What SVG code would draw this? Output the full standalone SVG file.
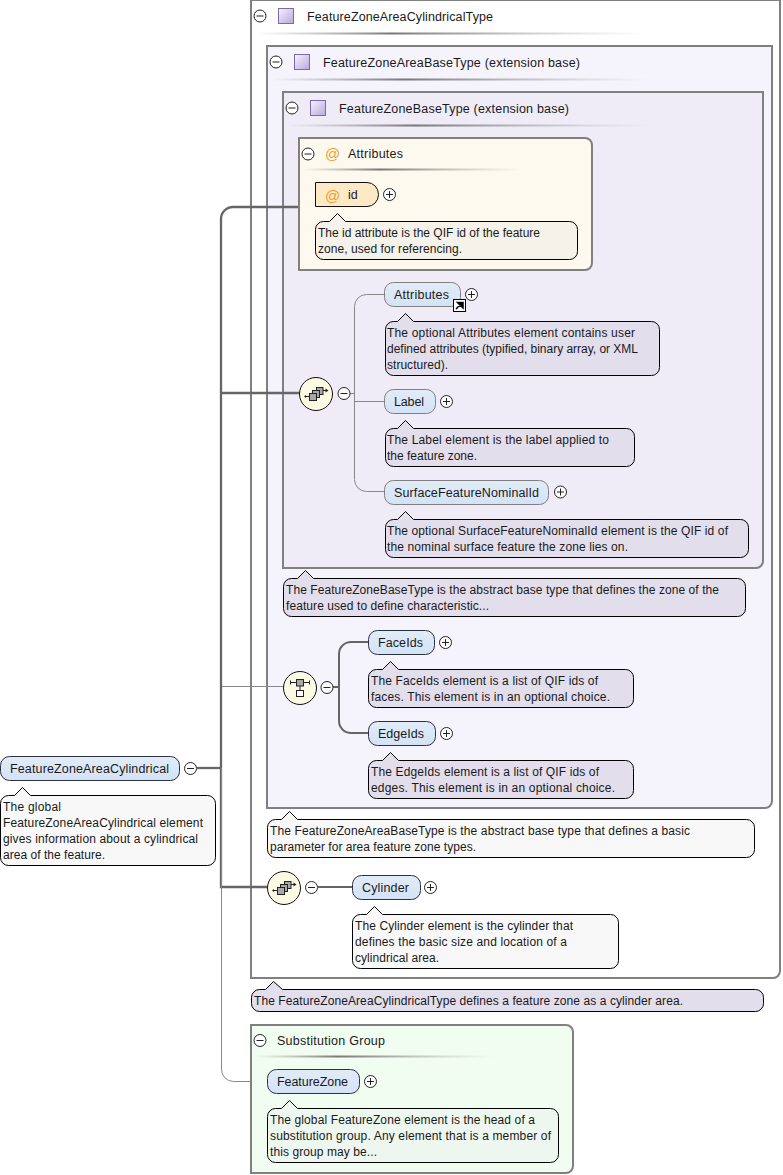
<svg xmlns="http://www.w3.org/2000/svg" width="783" height="1175" viewBox="0 0 783 1175">
<style>
text{font-family:"Liberation Sans",Arial,sans-serif;font-size:12px;fill:#1a1a1a}
.lb{font-size:12.5px}
.box{stroke:#808080;stroke-width:2}
.el{fill:url(#elFill);stroke:#2b3140;stroke-width:1}
.opt{stroke:#808080}
.note{stroke:#000;stroke-width:1;transform:translate(.5px,.5px)}
.n1{fill:#e3deec}.n2{fill:#f8f8f8}.n3{fill:#f5f2ea}.n4{fill:#eef7ef}
.btn{fill:#fff;stroke:#222;stroke-width:1}
.sym{fill:none;stroke:#222;stroke-width:1}
.thin{fill:none;stroke:#888;stroke-width:1}
.thick{fill:none;stroke:#666;stroke-width:2.300}
.mid{fill:none;stroke:#666;stroke-width:2}
.comp{fill:#fbfae2;stroke:#111;stroke-width:1}
.at{fill:#ee9f2e;font-size:15px}
.ty{fill:url(#tyFill);stroke:#7d68ad;stroke-width:1}
.g{fill:#a8a8a8;stroke:#222;stroke-width:1}
</style>
<defs>
<linearGradient id="elFill" x1="0" y1="0" x2="0" y2="1"><stop offset="0" stop-color="#e2ecf8"/><stop offset="1" stop-color="#d3e2f6"/></linearGradient>
<linearGradient id="tyFill" x1="0" y1="0" x2="1" y2="1"><stop offset="0" stop-color="#f6f3fb"/><stop offset="1" stop-color="#b7a8dc"/></linearGradient>
<linearGradient id="rule"><stop offset="0" stop-color="#999" stop-opacity="0"/><stop offset=".35" stop-color="#777"/><stop offset="1" stop-color="#aaa" stop-opacity="0"/></linearGradient>
<g id="plus"><circle r="6" class="btn"/><path d="M-3.500 0H3.500M0-3.500V3.500" class="sym"/></g>
<g id="minus"><circle r="6" class="btn"/><path d="M-3.500 0H3.500" class="sym"/></g>
<g id="seq">
<circle r="16.500" class="comp"/>
<path d="M-11 2.500H-7M7-3.500H11" class="sym"/><path d="M-12 2.500l2-1.500v3zM12.500-3.500l-3-2v4z" fill="#222"/>
<rect x="0.500" y="-6.500" width="6.500" height="7" class="g"/><rect x="-3.500" y="-3.500" width="7" height="7" class="g"/><rect x="-6.500" y="-0.500" width="7" height="7" class="g"/>
</g>
<g id="choice">
<circle r="16.500" class="comp"/>
<path d="M-9.500-5.500H9.500M0-2V2.500M-9.500-7.500V-3.500M9.500-7.500V-3.500" class="sym"/>
<rect x="-3.500" y="-8.500" width="7" height="6.500" class="g"/><rect x="-3.500" y="2.500" width="7" height="6" fill="#fff" stroke="#222"/>
</g>
</defs>

<!-- nested type containers -->
<g id="type-cylindrical">
<path class="box" fill="#fff" d="M251 0V978H773a7 7 0 0 0 7-7V0Z"/>
<use href="#minus" x="260" y="16"/><rect class="ty" x="278.500" y="8.500" width="15" height="15"/>
<text class="lb" x="307" y="21" textLength="186">FeatureZoneAreaCylindricalType</text>
<rect x="255" y="32.500" width="390" height="2" fill="url(#rule)"/>
</g>
<g id="type-area-base">
<path class="box" fill="#f5f3fb" d="M267 46H772V801a7 7 0 0 1-7 7H267Z"/>
<use href="#minus" x="276" y="62"/><rect class="ty" x="294.500" y="54.500" width="15" height="15"/>
<text class="lb" x="323" y="67" textLength="257">FeatureZoneAreaBaseType (extension base)</text>
<rect x="270" y="78.500" width="380" height="2" fill="url(#rule)"/>
</g>
<g id="type-zone-base">
<path class="box" fill="#efecf7" d="M283 92H763V561a7 7 0 0 1-7 7H283Z"/>
<use href="#minus" x="292" y="108"/><rect class="ty" x="310.500" y="100.500" width="15" height="15"/>
<text class="lb" x="339" y="113" textLength="230">FeatureZoneBaseType (extension base)</text>
<rect x="286" y="124.500" width="365" height="2" fill="url(#rule)"/>
</g>

<!-- connectors -->
<g id="connectors">
<path class="thick" d="M197 768H221"/>
<path class="thick" d="M300 207H233a12 12 0 0 0-12 12V887H268"/>
<path class="thick" d="M221 393H300"/>
<path class="thin" d="M222 686.500H284"/>
<path class="thin" d="M221.500 768V1069a12 12 0 0 0 12 12.500H268"/>
<path class="thin" d="M350 393.500H354.500M384 294.500H366.500a12 12 0 0 0-12 12V479.500a12 12 0 0 0 12 12H385M354.500 401.500H384"/>
<path class="mid" d="M333 687H339M368 642H351a12 12 0 0 0-12 12V721a12 12 0 0 0 12 12H368"/>
<path class="mid" d="M318 887H352"/>
</g>

<g id="attributes-group">
<path class="box" fill="#fef9ee" d="M299 138H585a7 7 0 0 1 7 7V263a7 7 0 0 1-7 7H299Z"/>
<use href="#minus" x="308" y="154"/><text class="at" x="325" y="159">@</text>
<text class="lb" x="348" y="158" textLength="55">Attributes</text>
<rect x="302" y="168.500" width="220" height="2" fill="url(#rule)"/>
</g>
<g id="attr-id">
<path fill="#fee9c6" stroke="#111" d="M315.500 182.500H367a11.500 12 0 0 1 11.500 12a11.500 12 0 0 1-11.500 12H315.500Z"/>
<text class="at" x="325" y="201">@</text><text class="lb" x="348" y="199">id</text>
<use href="#plus" x="389.500" y="194.500"/>
<path class="note n3" d="M323 221H329L337 213L345 221H569a8 8 0 0 1 8 8V251a8 8 0 0 1-8 8H323a8 8 0 0 1-8-8V229a8 8 0 0 1 8-8Z"/>
<text x="318" y="237" textLength="222">The id attribute is the QIF id of the feature</text>
<text x="318" y="253" textLength="144">zone, used for referencing.</text>
</g>

<g id="seq-zone-base"><use href="#seq" x="316" y="394"/><use href="#minus" x="344" y="393.500"/></g>
<g id="el-attributes">
<rect class="el opt" x="384.500" y="282.500" width="76" height="24" rx="9"/>
<text class="lb" x="394" y="299" textLength="55">Attributes</text>
<rect x="453.500" y="299.500" width="12" height="12" fill="#fff" stroke="#000"/>
<path d="M456 309L461.500 303.500M457.500 302.500H463V308Z" stroke="#000" stroke-width="1.500"/>
<use href="#plus" x="471.500" y="294.500"/>
<path class="note n1" d="M393 321H397L405 313L413 321H651a8 8 0 0 1 8 8V367a8 8 0 0 1-8 8H393a8 8 0 0 1-8-8V329a8 8 0 0 1 8-8Z"/>
<text x="387" y="337" textLength="248">The optional Attributes element contains user</text>
<text x="387" y="353" textLength="251">defined attributes (typified, binary array, or XML</text>
<text x="387" y="369" textLength="61">structured).</text>
</g>
<g id="el-label">
<rect class="el opt" x="384.500" y="389.500" width="51" height="24" rx="9"/>
<text class="lb" x="394" y="406" textLength="30">Label</text><use href="#plus" x="446.500" y="401.500"/>
<path class="note n1" d="M393 428H397L405 420L413 428H626a8 8 0 0 1 8 8V458a8 8 0 0 1-8 8H393a8 8 0 0 1-8-8V436a8 8 0 0 1 8-8Z"/>
<text x="387" y="444" textLength="222">The Label element is the label applied to</text>
<text x="387" y="460" textLength="90">the feature zone.</text>
</g>
<g id="el-surface">
<rect class="el opt" x="384.500" y="480.500" width="164" height="24" rx="9"/>
<text class="lb" x="394" y="497" textLength="145">SurfaceFeatureNominalId</text><use href="#plus" x="560.500" y="492"/>
<path class="note n1" d="M393 519H397L405 511L413 519H740a8 8 0 0 1 8 8V549a8 8 0 0 1-8 8H393a8 8 0 0 1-8-8V527a8 8 0 0 1 8-8Z"/>
<text x="387" y="535" textLength="341">The optional SurfaceFeatureNominalId element is the QIF id of</text>
<text x="387" y="551" textLength="241">the nominal surface feature the zone lies on.</text>
</g>
<g id="note-zone-base">
<path class="note n1" d="M291 578H297L305 570L313 578H737a8 8 0 0 1 8 8V608a8 8 0 0 1-8 8H291a8 8 0 0 1-8-8V586a8 8 0 0 1 8-8Z"/>
<text x="286" y="594" textLength="433">The FeatureZoneBaseType is the abstract base type that defines the zone of the</text>
<text x="286" y="610" textLength="203">feature used to define characteristic...</text>
</g>

<g id="choice-faces"><use href="#choice" x="300" y="688"/><use href="#minus" x="327" y="687.500"/></g>
<g id="el-faceids">
<rect class="el" x="368.500" y="630.500" width="66" height="24" rx="9"/>
<text class="lb" x="378" y="647" textLength="45">FaceIds</text><use href="#plus" x="445.500" y="642.500"/>
<path class="note n1" d="M376 669H382L390 661L398 669H625a8 8 0 0 1 8 8V699a8 8 0 0 1-8 8H376a8 8 0 0 1-8-8V677a8 8 0 0 1 8-8Z"/>
<text x="371" y="685" textLength="227">The FaceIds element is a list of QIF ids of</text>
<text x="371" y="701" textLength="239">faces. This element is in an optional choice.</text>
</g>
<g id="el-edgeids">
<rect class="el" x="368.500" y="721.500" width="67" height="24" rx="9"/>
<text class="lb" x="378" y="738" textLength="46">EdgeIds</text><use href="#plus" x="446.500" y="733.500"/>
<path class="note n1" d="M376 760H382L390 752L398 760H625a8 8 0 0 1 8 8V790a8 8 0 0 1-8 8H376a8 8 0 0 1-8-8V768a8 8 0 0 1 8-8Z"/>
<text x="371" y="776" textLength="228">The EdgeIds element is a list of QIF ids of</text>
<text x="371" y="792" textLength="244">edges. This element is in an optional choice.</text>
</g>
<g id="note-area-base">
<path class="note n2" d="M275 819H281L289 811L297 819H746a8 8 0 0 1 8 8V849a8 8 0 0 1-8 8H275a8 8 0 0 1-8-8V827a8 8 0 0 1 8-8Z"/>
<text x="270" y="835" textLength="420">The FeatureZoneAreaBaseType is the abstract base type that defines a basic</text>
<text x="270" y="851" textLength="206">parameter for area feature zone types.</text>
</g>

<g id="seq-cylinder"><use href="#seq" x="284" y="888"/><use href="#minus" x="311.500" y="887.500"/></g>
<g id="el-cylinder">
<rect class="el" x="352.500" y="875.500" width="68" height="24" rx="9"/>
<text class="lb" x="362" y="892" textLength="47">Cylinder</text><use href="#plus" x="430.500" y="887.500"/>
<path class="note n2" d="M360 914H366L374 906L382 914H610a8 8 0 0 1 8 8V960a8 8 0 0 1-8 8H360a8 8 0 0 1-8-8V922a8 8 0 0 1 8-8Z"/>
<text x="355" y="930" textLength="218">The Cylinder element is the cylinder that</text>
<text x="355" y="946" textLength="212">defines the basic size and location of a</text>
<text x="355" y="962" textLength="84">cylindrical area.</text>
</g>
<g id="note-cylindrical">
<path class="note n1" d="M259 989H265L273 981L282 989H755a8 8 0 0 1 8 8V1003a8 8 0 0 1-8 8H259a8 8 0 0 1-8-8V997a8 8 0 0 1 8-8Z"/>
<text x="254" y="1005" textLength="429">The FeatureZoneAreaCylindricalType defines a feature zone as a cylinder area.</text>
</g>

<g id="substitution-group">
<path class="box" fill="#f1fdf1" d="M251 1025H566a7 7 0 0 1 7 7V1166a7 7 0 0 1-7 7H251Z"/>
<use href="#minus" x="260" y="1040.500"/>
<text class="lb" x="277" y="1045" textLength="108">Substitution Group</text>
<rect x="254" y="1055.500" width="240" height="2" fill="url(#rule)"/>
</g>
<g id="el-featurezone">
<rect class="el" x="267.500" y="1069.500" width="92" height="24" rx="9"/>
<text class="lb" x="277" y="1086" textLength="71">FeatureZone</text><use href="#plus" x="370.500" y="1081.500"/>
<path class="note n4" d="M275 1108H281L289 1100L297 1108H550a8 8 0 0 1 8 8V1154a8 8 0 0 1-8 8H275a8 8 0 0 1-8-8V1116a8 8 0 0 1 8-8Z"/>
<text x="270" y="1124" textLength="265">The global FeatureZone element is the head of a</text>
<text x="270" y="1140" textLength="281">substitution group. Any element that is a member of</text>
<text x="270" y="1156" textLength="107">this group may be...</text>
</g>

<g id="root-element">
<rect class="el" x="0.500" y="756.500" width="179" height="24" rx="9"/>
<text class="lb" x="10" y="773" textLength="159">FeatureZoneAreaCylindrical</text>
<use href="#minus" x="190.500" y="768.500"/>
<path class="note n2" d="M8 795H14L22 787L30 795H207a8 8 0 0 1 8 8V857a8 8 0 0 1-8 8H8a8 8 0 0 1-8-8V803a8 8 0 0 1 8-8Z"/>
<text x="3" y="811" textLength="58">The global</text>
<text x="3" y="827" textLength="200">FeatureZoneAreaCylindrical element</text>
<text x="3" y="843" textLength="195">gives information about a cylindrical</text>
<text x="3" y="859" textLength="102">area of the feature.</text>
</g>
</svg>
